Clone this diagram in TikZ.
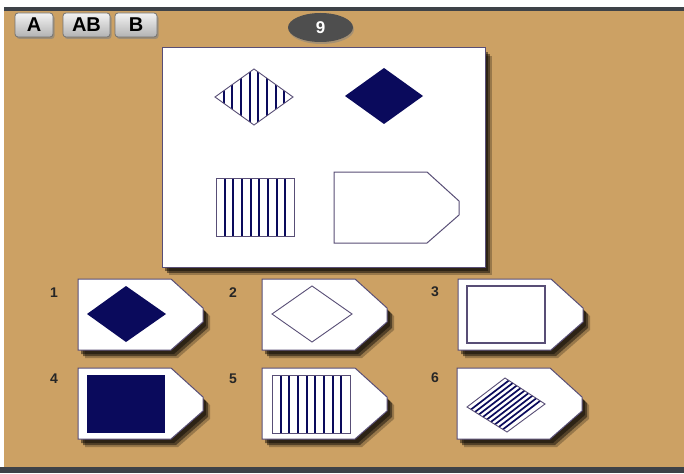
\documentclass[tikz,border=0pt]{standalone}
\usepackage{fontspec}
\setsansfont{Liberation Sans}
\usepackage{tikz}
\usetikzlibrary{shapes.geometric,shadows}
\definecolor{bgtan}{RGB}{204,161,100}
\definecolor{bardark}{RGB}{62,66,72}
\definecolor{pzlnavy}{RGB}{10,10,92}
\definecolor{pzledge}{RGB}{88,78,118}
\definecolor{ovalgray}{RGB}{78,78,78}

% outline of one tag card, top left corner at (#1,#2)
\newcommand{\tagoutline}[2]{(#1,#2) -- ++(93,0) -- ++(32,29) -- ++(0,14) -- ++(-32,28) -- ++(-93,0) -- cycle}

\tikzset{
  softshadow/.style={
    drop shadow={shadow xshift=3pt, shadow yshift=-4pt, opacity=0.45, fill=black},
    drop shadow={shadow xshift=5pt, shadow yshift=-6pt, opacity=0.45, fill=black},
    drop shadow={shadow xshift=7pt, shadow yshift=-8pt, opacity=0.25, fill=black}},
  cardbox/.style={draw=pzledge, fill=white, line width=1pt, softshadow},
  stripe/.style={draw=pzlnavy, line width=1.8pt},
  thinline/.style={draw=pzledge, line width=0.9pt},
  btn/.style={draw=black!55, line width=0.8pt, rounded corners=3pt, top color=black!5, bottom color=black!30,
    font=\sffamily\bfseries\fontsize{20}{20}\selectfont, text=black, inner sep=0pt,
    minimum height=24pt, drop shadow={shadow xshift=1.5pt, shadow yshift=-2pt, opacity=0.6}},
  numlbl/.style={font=\sffamily\bfseries\fontsize{14}{14}\selectfont, text=black!85}
}

\begin{document}
\begin{tikzpicture}[x=1pt, y=-1pt]
  \useasboundingbox (0,0) rectangle (684,473);
  % backdrop
  \fill[white] (0,0) rectangle (684,473);
  \fill[bgtan] (4,11) rectangle (684,467);
  \fill[bardark] (4,7) rectangle (684,11);
  \fill[bardark] (0,467) rectangle (684,473);

  % top buttons and item number
  \node[btn, minimum width=38pt] (btnA) at (34,25) {A};
  \node[btn, minimum width=47pt] (btnAB) at (86.5,25) {AB};
  \node[btn, minimum width=42pt] (btnB) at (136,25) {B};
  \node[ellipse, fill=ovalgray, minimum width=65pt, minimum height=29pt, inner sep=0pt,
    text=white, font=\sffamily\bfseries\fontsize{17}{17}\selectfont,
    drop shadow={shadow xshift=1pt, shadow yshift=-2pt, opacity=0.5}] (itemno) at (320.5,27.5) {9};

  % question panel
  \path[cardbox] (162,48) rectangle (485,267);
  \begin{scope}
    \clip (215,97) -- (254,69) -- (293,97) -- (254,125) -- cycle;
    \foreach \k in {1,...,8}
      \draw[stripe] ({215+8.67*\k},60) -- ++(0,75);
  \end{scope}
  \draw[thinline] (215,97) -- (254,69) -- (293,97) -- (254,125) -- cycle;
  \fill[pzlnavy] (345,96) -- (384,68) -- (423,96) -- (384,124) -- cycle;
  \foreach \k in {1,...,8}
    \draw[stripe] ({216+8.67*\k},178) -- ++(0,58);
  \draw[thinline] (216,178) rectangle (294,236);
  \draw[pzledge, fill=white, line width=1pt] \tagoutline{334}{172};

  % answer cards
  \path[cardbox] \tagoutline{78}{279};
  \path[cardbox] \tagoutline{262}{279};
  \path[cardbox] \tagoutline{458}{279};
  \path[cardbox] \tagoutline{78}{368};
  \path[cardbox] \tagoutline{262}{368};
  \path[cardbox] \tagoutline{457}{368};

  \node[numlbl] (n1) at (54,293) {1};
  \node[numlbl] (n2) at (233,293) {2};
  \node[numlbl] (n3) at (435,292) {3};
  \node[numlbl] (n4) at (54,379) {4};
  \node[numlbl] (n5) at (233,379) {5};
  \node[numlbl] (n6) at (435,378) {6};

  % card contents
  \fill[pzlnavy] (87,314) -- (126,286) -- (166,314) -- (126,342) -- cycle;
  \draw[thinline] (272,314) -- (312,286) -- (352,314) -- (312,342) -- cycle;
  \draw[thinline, line width=1.6pt] (467,286) rectangle (545,343);
  \fill[pzlnavy] (87,375) rectangle (165,433);
  \foreach \k in {1,...,8}
    \draw[stripe] ({272+8.67*\k},375) -- ++(0,58);
  \draw[thinline] (272,375) rectangle (350,433);
  \begin{scope}
    \clip (467,407) -- (505,378) -- (545,404) -- (507,432) -- cycle;
    \foreach \k in {1,...,9}
      \draw[draw=pzlnavy, line width=1.7pt] ({467+2.67*\k-30},{407+3.5*\k+23}) -- ++(90,-69);
  \end{scope}
  \draw[thinline] (467,407) -- (505,378) -- (545,404) -- (507,432) -- cycle;
\end{tikzpicture}
\end{document}
